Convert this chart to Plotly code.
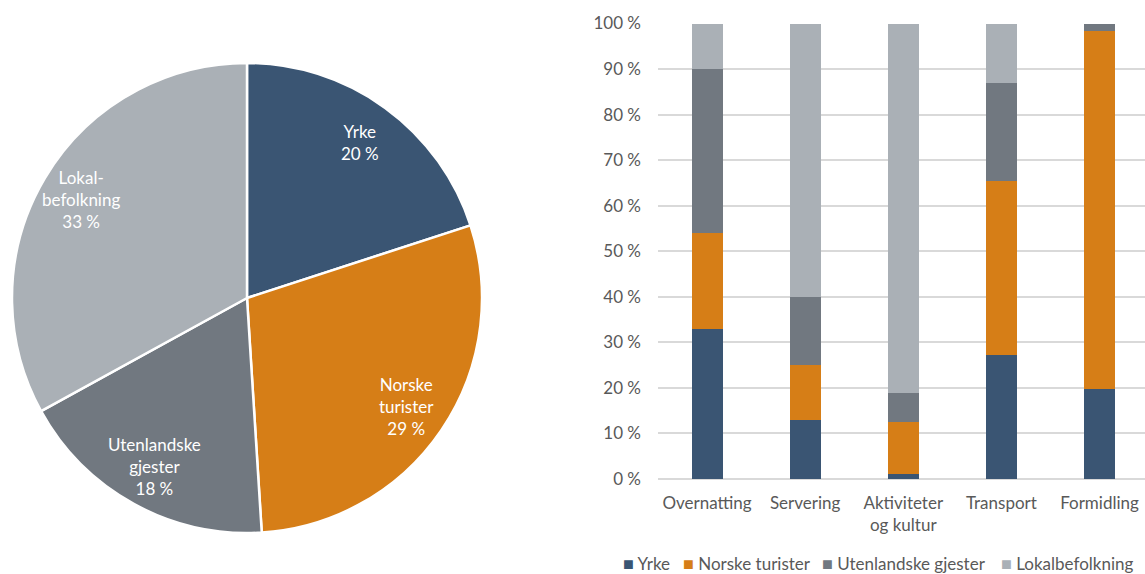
import math
import plotly.graph_objects as go

# ---- data ----
pie_labels = ["Yrke", "Norske turister", "Utenlandske gjester", "Lokalbefolkning"]
pie_text = ["Yrke", "Norske<br>turister", "Utenlandske<br>gjester", "Lokal-<br>befolkning"]
pie_values = [20, 29, 18, 33]

categories = ["Overnatting", "Servering", "Aktiviteter<br>og kultur", "Transport", "Formidling"]
yrke = [33.0, 13.0, 1.2, 27.3, 19.8]
norske = [21.0, 12.0, 11.4, 38.2, 78.5]
utenlandske = [36.0, 15.0, 6.2, 21.5, 1.7]
lokal = [10.0, 60.0, 81.2, 13.0, 0.0]
y_ticks = [0, 10, 20, 30, 40, 50, 60, 70, 80, 90, 100]
y_ticktext = [f"{v} %" for v in y_ticks]

series_names = ["Yrke", "Norske turister", "Utenlandske gjester", "Lokalbefolkning"]
series_values = [yrke, norske, utenlandske, lokal]
colors = ["#3A5573", "#D67E17", "#717880", "#AAB0B6"]

W, H = 1145, 574
FONT = "Lato, 'Open Sans', sans-serif"
TXT = "#595959"

fig = go.Figure()

# ---- pie ----
pie_left, pie_right, pie_top, pie_bottom = 12, 482, 63, 533
fig.add_trace(go.Pie(
    labels=pie_labels, values=pie_values, sort=False, direction="clockwise",
    rotation=0, marker=dict(colors=colors, line=dict(color="white", width=2.5)),
    textinfo="none", hoverinfo="label+percent", showlegend=False,
    domain=dict(x=[pie_left / W, pie_right / W], y=[1 - pie_bottom / H, 1 - pie_top / H]),
))

# pie labels placed along each slice's mid-angle
cx = (pie_left + pie_right) / 2
cy = (pie_top + pie_bottom) / 2
R = (pie_right - pie_left) / 2
total = sum(pie_values)
cum = 0
for txt, v in zip(pie_text, pie_values):
    mid = (cum + v / 2) / total * 2 * math.pi
    cum += v
    r = 0.82 * R
    px = cx + r * math.sin(mid)
    py = cy - r * math.cos(mid)
    fig.add_annotation(
        x=px / W, y=1 - py / H, xref="paper", yref="paper",
        xanchor="center", yanchor="middle",
        text=f"{txt}<br>{round(v / total * 100)} %", showarrow=False,
        font=dict(family=FONT, size=17, color="white"), align="center",
    )

# ---- stacked bars ----
for name, vals, c in zip(series_names, series_values, colors):
    fig.add_trace(go.Bar(
        x=categories, y=vals, name=name, marker=dict(color=c, line=dict(width=0)),
        xaxis="x", yaxis="y", showlegend=False,
    ))

fig.update_layout(
    template="none",
    width=W, height=H, margin=dict(l=0, r=0, t=0, b=0, autoexpand=False),
    paper_bgcolor="white", plot_bgcolor="white",
    barmode="stack", bargap=0.684,
    font=dict(family=FONT, size=17, color=TXT),
    xaxis=dict(domain=[658 / W, 1.0], range=[-0.5, 4.464], showgrid=False, automargin=False,
               showline=False, ticks="", ticklabelstandoff=12,
               tickfont=dict(size=17, color=TXT), fixedrange=True),
    yaxis=dict(domain=[1 - 479 / H, 1 - 23.5 / H], range=[0, 100], tickmode="array",
               tickvals=y_ticks, ticktext=y_ticktext, automargin=False,
               showgrid=True, gridcolor="#D9D9D9", gridwidth=1.5,
               zeroline=True, zerolinecolor="#D9D9D9", zerolinewidth=1.5,
               showline=False, ticks="", ticklabelstandoff=16,
               tickfont=dict(size=17, color=TXT), fixedrange=True),
)

# ---- legend (below bar chart) ----
legend_x = [621, 681, 820, 999]
for name, c, lx in zip(series_names, colors, legend_x):
    fig.add_annotation(
        x=lx / W, y=1 - 562.5 / H, xref="paper", yref="paper", xanchor="left", yanchor="middle",
        text=f"<span style='color:{c};font-size:18px'>■</span> {name}", showarrow=False,
        font=dict(family=FONT, size=17, color=TXT),
    )

fig.write_html("out.html", config={"displayModeBar": False},
               post_script="document.body.style.margin='0px';")
